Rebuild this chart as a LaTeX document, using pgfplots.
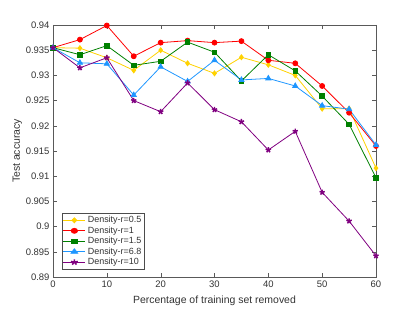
\documentclass[border=0pt]{standalone}
\usepackage{pgfplots}
\pgfplotsset{compat=1.18}
\usepackage{fontspec}
\setmainfont{Liberation Sans}
\usetikzlibrary{plotmarks}
\definecolor{cy}{RGB}{255,210,0}
\definecolor{cr}{RGB}{255,0,0}
\definecolor{cg}{RGB}{0,128,0}
\definecolor{cb}{RGB}{30,150,255}
\definecolor{cp}{RGB}{128,0,128}
\begin{document}
\begin{tikzpicture}
\begin{axis}[
  scale only axis,
  width=323bp, height=252bp,
  xmin=0, xmax=60, ymin=0.89, ymax=0.94,
  xtick={0,10,...,60},
  ytick={0.89,0.895,...,0.941},
  yticklabel style={/pgf/number format/.cd, fixed, precision=3},
  /pgf/number format/assume math mode=true,
  tick align=inside,
  axis line style={gray!70!black},
  tick style={gray!70!black},
  tick label style={font=\fontsize{9.5}{11}\selectfont, text=black!80},
  label style={font=\fontsize{10.5}{12}\selectfont, text=black!80},
  xlabel={Percentage of training set removed},
  ylabel={Test accuracy},
  xlabel style={yshift=-2pt},
  ylabel style={yshift=-3pt},
  legend cell align=left,
  legend image post style={xscale=1.3},
  legend style={font=\fontsize{9}{10}\selectfont, text=black!80, draw=black!70, inner sep=1pt, row sep=-1.5pt, at={(0.027,0.03)}, anchor=south west},
  every axis plot/.append style={line width=0.8pt},
]
\addplot[color=cy, mark=diamond*, mark size=2.5pt] coordinates {
(0,0.9355)(5,0.9354)(10,0.9335)(15,0.9310)(20,0.9350)(25,0.9324)(30,0.9304)(35,0.9336)(40,0.9321)(45,0.9300)(50,0.9234)(55,0.9234)(60,0.9116)};
\addlegendentry{Density-r=0.5}
\addplot[color=cr, mark=*, mark size=2.5pt] coordinates {
(0,0.9355)(5,0.9371)(10,0.9399)(15,0.9338)(20,0.9365)(25,0.9369)(30,0.9365)(35,0.9368)(40,0.9330)(45,0.9324)(50,0.9279)(55,0.9226)(60,0.9160)};
\addlegendentry{Density-r=1}
\addplot[color=cg, mark=square*, mark size=2.3pt] coordinates {
(0,0.9355)(5,0.9341)(10,0.9359)(15,0.9320)(20,0.9328)(25,0.9366)(30,0.9346)(35,0.9289)(40,0.9341)(45,0.9309)(50,0.9259)(55,0.9203)(60,0.9097)};
\addlegendentry{Density-r=1.5}
\addplot[color=cb, mark=triangle*, mark size=3pt] coordinates {
(0,0.9355)(5,0.9325)(10,0.9323)(15,0.9261)(20,0.9317)(25,0.9288)(30,0.9330)(35,0.9291)(40,0.9294)(45,0.9279)(50,0.9240)(55,0.9233)(60,0.9162)};
\addlegendentry{Density-r=6.8}
\addplot[color=cp, mark=star, mark size=2.8pt, mark options={line width=1.5pt}] coordinates {
(0,0.9355)(5,0.9315)(10,0.9335)(15,0.9250)(20,0.9228)(25,0.9285)(30,0.9232)(35,0.9208)(40,0.9152)(45,0.9189)(50,0.9068)(55,0.9011)(60,0.8942)};
\addlegendentry{Density-r=10}
\end{axis}
\path (current axis.south west) ++(-53bp,-35bp) rectangle ++(415bp,312bp);
\end{tikzpicture}
\end{document}
